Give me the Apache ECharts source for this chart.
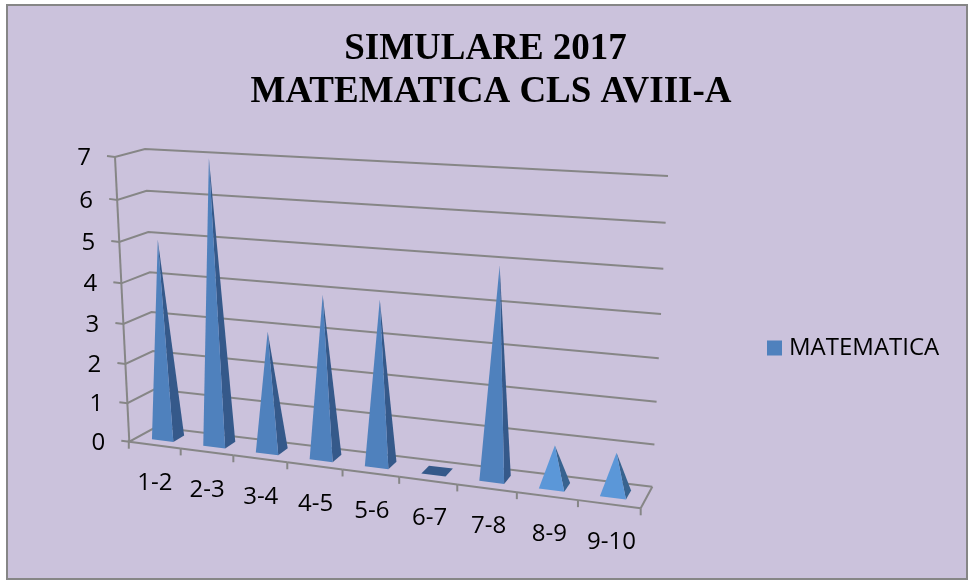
<!DOCTYPE html>
<html>
<head>
<meta charset="utf-8">
<style>html,body{margin:0;padding:0;background:#fff}#c{width:969px;height:580px}</style>
<script src="https://cdn.jsdelivr.net/npm/echarts@6/dist/echarts.min.js"></script>
</head>
<body>
<div id="c"></div>
<script>
const categories = ['1-2','2-3','3-4','4-5','5-6','6-7','7-8','8-9','9-10'];
const matematica = [5,7,3,4,4,0,5,1,1];
const valueTicks = [0,1,2,3,4,5,6,7];
const seriesName = 'MATEMATICA';
const titleLines = ['SIMULARE 2017','MATEMATICA CLS AVIII-A'];

// oblique view of the chart box: corners of floor and ceiling
const FL=[129.3,441.7],FR=[640.7,508.3],BR=[652.3,486.7],BL=[156,427];
const TFL=[115,157],TFR=[660,188],TBR=[668,176],TBL=[145,149];
const lerp=(a,b,t)=>[a[0]+(b[0]-a[0])*t,a[1]+(b[1]-a[1])*t];
const warp=(t,a)=>a*t/(1-(1-a)*t);
function view(t,d,h){
  const u=warp(t,0.894);
  const fl=lerp(lerp(FL,FR,u),lerp(BL,BR,u),d);
  const tp=lerp(lerp(TFL,TFR,u),lerp(TBL,TBR,u),d);
  return lerp(fl,tp,warp(h,0.94));
}
// turn an axis value into view parameters via the hidden cartesian axes
function norm(api,cs,cat,val,shift){
  const p=api.coord([cat,val]);
  const band=api.size([1,0])[0];
  return [(p[0]+(shift||0)*band-cs.x)/cs.width, 1-(p[1]-cs.y)/cs.height];
}
const GRID='#868686', LW=2;
const line=(pts)=>({type:'polyline',shape:{points:pts},style:{fill:null,stroke:GRID,lineWidth:LW},silent:true});
const titleStyle={fontFamily:'Liberation Serif',fontWeight:'bold',fontSize:37,color:'#000'};

const option={
  animation:false,
  backgroundColor:'#ffffff',
  title:[
    {text:titleLines[0],left:480.5,top:26,textAlign:'center',textStyle:titleStyle},
    {text:titleLines[1],left:486,top:69,textAlign:'center',textStyle:titleStyle}
  ],
  legend:{data:[{name:seriesName,icon:'rect'}],left:762,top:331,itemWidth:15,itemHeight:15,itemGap:0,
    textStyle:{fontFamily:'Open Sans',fontSize:24,color:'#000',padding:[0,0,0,2]}},
  graphic:[{type:'rect',z:-10,silent:true,shape:{x:7,y:5,width:960,height:574},
    style:{fill:'#cbc2dc',stroke:'#868686',lineWidth:2}}],
  grid:{left:100,top:150,width:540,height:300},
  xAxis:{type:'category',data:categories,show:false},
  yAxis:{type:'value',min:0,max:7,interval:1,show:false},
  series:[
    {type:'custom',name:'walls',coordinateSystem:'cartesian2d',z:1,silent:true,
     data:valueTicks.map(v=>[0,v]),
     renderItem(params,api){
       const cs=params.coordSys,v=api.value(1);
       const h=norm(api,cs,0,v)[1];
       const a=view(0,0,h),b=view(0,1,h),c=view(1,1,h);
       const kids=[line([[a[0]-8,a[1]-1],a,b,c])];
       if(v>valueTicks[0]) kids.push(line([view(0,0,norm(api,cs,0,v-1)[1]),a]));
       return {type:'group',children:kids};
     }},
    {type:'custom',name:'floor',coordinateSystem:'cartesian2d',z:2,silent:true,
     data:categories.map((c,i)=>[i,0]),
     renderItem(params,api){
       const cs=params.coordSys,i=api.value(0);
       const t0=norm(api,cs,i,0,-0.5)[0],t1=norm(api,cs,i,0,0.5)[0];
       const a=view(t0,0,0),b=view(t1,0,0);
       const kids=[line([a,b]),line([b,[b[0],b[1]+7]])];
       if(i===0)kids.push(line([[a[0]-0.5,a[1]-2],[a[0]-0.5,a[1]+7]]));
       if(i===categories.length-1)kids.push(line([b,view(1,1,0)]));
       return {type:'group',children:kids};
     }},
    {type:'custom',name:'axisText',coordinateSystem:'cartesian2d',z:3,silent:true,
     data:valueTicks.map(v=>[0,v]),
     renderItem(params,api){
       const cs=params.coordSys,v=api.value(1);
       const p=view(0,0,norm(api,cs,0,v)[1]);
       return {type:'text',style:{text:String(v),x:p[0]-31,y:p[1]+1,align:'center',verticalAlign:'middle',
         fontFamily:'Open Sans',fontSize:24,fill:'#000'}};
     }},
    {type:'custom',name:'catText',coordinateSystem:'cartesian2d',z:3,silent:true,
     data:categories.map((c,i)=>[i,0]),
     renderItem(params,api){
       const cs=params.coordSys,i=api.value(0);
       const p=view(norm(api,cs,i,0)[0],0,0);
       return {type:'text',style:{text:categories[i],x:p[0]+i*0.3,y:p[1]+38,align:'center',verticalAlign:'middle',
         fontFamily:'Open Sans',fontSize:24,fill:'#000'}};
     }},
    {type:'custom',name:seriesName,coordinateSystem:'cartesian2d',z:5,
     itemStyle:{color:'#4f81bd'},
     data:matematica.map((v,i)=>[i,v]),
     renderItem(params,api){
       const cs=params.coordSys,i=api.value(0),v=api.value(1);
       const [t,h]=norm(api,cs,i,v);
       const tl=norm(api,cs,i,v,-0.21)[0],tr=norm(api,cs,i,v,0.21)[0];
       const d0=0.3,d1=0.72;
       const a=view(tl,d0,0),b=view(tr,d0,0),c=view(tr,d1,0),e=view(tl,d1,0);
       const apex=view(t,0.42,h);
       const light=v>0&&v<=1;
       const front=light?'#5b97d8':'#4f81bd', side=light?'#38638f':'#35598a';
       if(v===0) return {type:'polygon',shape:{points:[a,b,c,e]},style:{fill:side}};
       return {type:'group',children:[
         {type:'polygon',shape:{points:[b,c,apex]},style:{fill:side}},
         {type:'polygon',shape:{points:[a,b,apex]},style:{fill:front}}
       ]};
     }}
  ]
};
const chart=echarts.init(document.getElementById('c'),null,{renderer:'canvas'});
chart.setOption(option);
</script>
</body>
</html>
